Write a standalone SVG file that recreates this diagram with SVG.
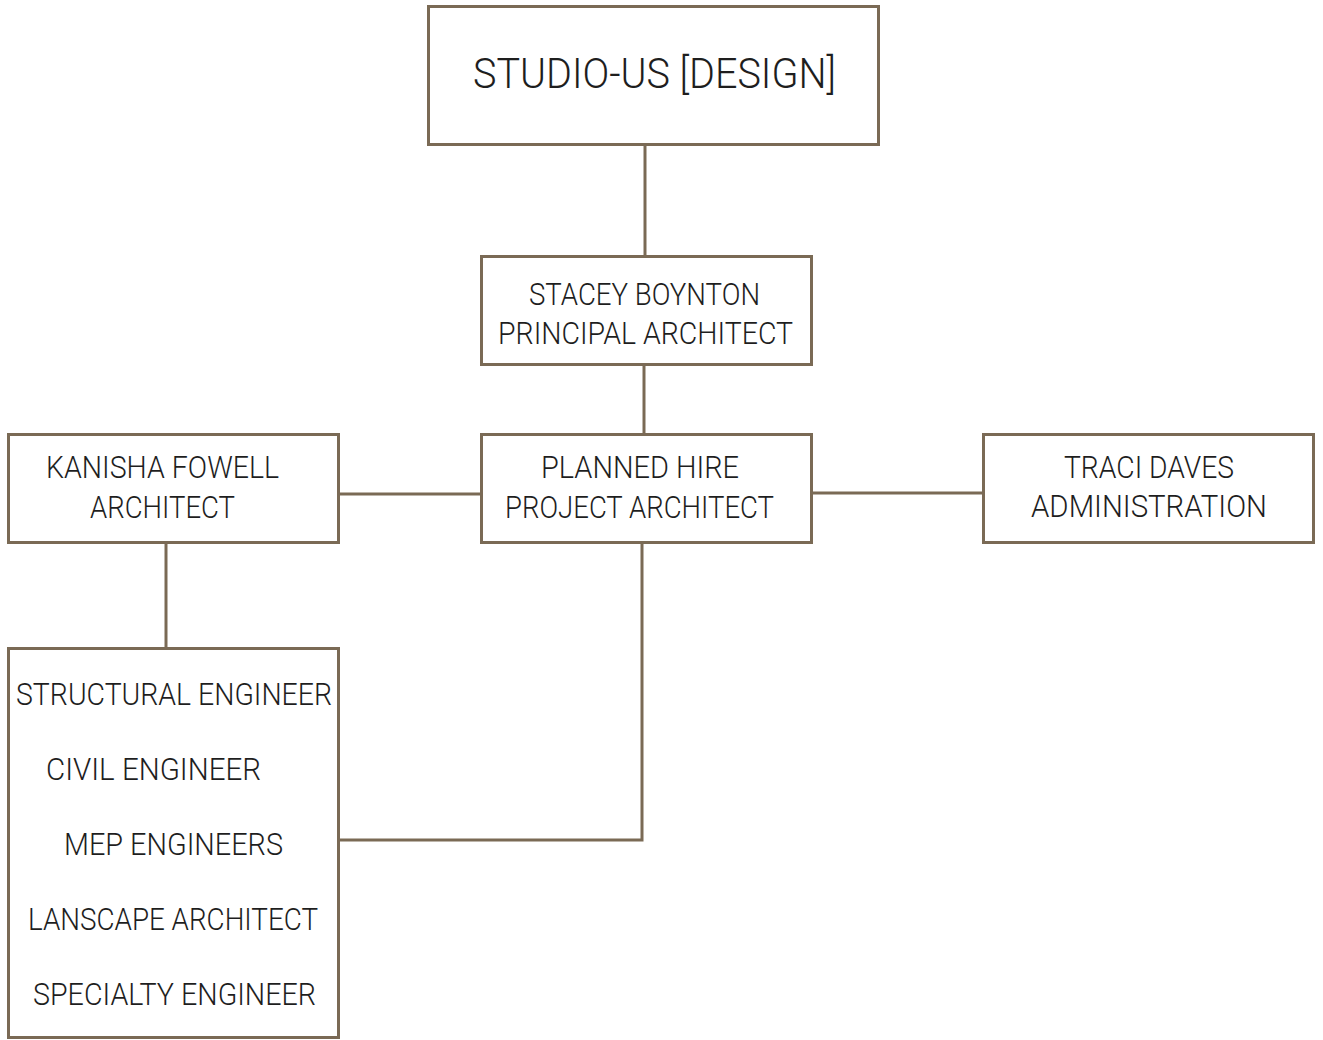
<svg xmlns="http://www.w3.org/2000/svg" width="1323" height="1040" viewBox="0 0 1323 1040">
<style>
.box{fill:#fff;stroke:#7a6a55;stroke-width:3}
.con{fill:none;stroke:#7a6a55;stroke-width:3}
text{font-family:Roboto,"Open Sans",sans-serif;font-weight:300;font-size:31px;fill:#1e1e1e}
.t{font-size:43px}
</style>
<rect width="1323" height="1040" fill="#fff"/>
<g id="connectors">
<path class="con" d="M645 144V256"/>
<path class="con" d="M644 365V434"/>
<path class="con" d="M339 494H481"/>
<path class="con" d="M812 493H983"/>
<path class="con" d="M166 543V648"/>
<path class="con" d="M339 840H642V543"/>
</g>
<g id="studio">
<rect class="box" x="428.5" y="6.5" width="450" height="138"/>
<text class="t" x="473" y="88" textLength="363" lengthAdjust="spacingAndGlyphs">STUDIO-US [DESIGN]</text>
</g>
<g id="stacey">
<rect class="box" x="481.5" y="256.5" width="330" height="108"/>
<text x="529" y="305" textLength="231" lengthAdjust="spacingAndGlyphs">STACEY BOYNTON</text>
<text x="498" y="344" textLength="295" lengthAdjust="spacingAndGlyphs">PRINCIPAL ARCHITECT</text>
</g>
<g id="planned">
<rect class="box" x="481.5" y="434.5" width="330" height="108"/>
<text x="541" y="478" textLength="198" lengthAdjust="spacingAndGlyphs">PLANNED HIRE</text>
<text x="505" y="518" textLength="269" lengthAdjust="spacingAndGlyphs">PROJECT ARCHITECT</text>
</g>
<g id="kanisha">
<rect class="box" x="8.5" y="434.5" width="330" height="108"/>
<text x="46" y="478" textLength="233" lengthAdjust="spacingAndGlyphs">KANISHA FOWELL</text>
<text x="90" y="518" textLength="145" lengthAdjust="spacingAndGlyphs">ARCHITECT</text>
</g>
<g id="traci">
<rect class="box" x="983.5" y="434.5" width="330" height="108"/>
<text x="1064" y="478" textLength="170" lengthAdjust="spacingAndGlyphs">TRACI DAVES</text>
<text x="1031" y="517" textLength="236" lengthAdjust="spacingAndGlyphs">ADMINISTRATION</text>
</g>
<g id="consultants">
<rect class="box" x="8.5" y="648.5" width="330" height="389"/>
<text x="16" y="705" textLength="316" lengthAdjust="spacingAndGlyphs">STRUCTURAL ENGINEER</text>
<text x="46" y="780" textLength="215" lengthAdjust="spacingAndGlyphs">CIVIL ENGINEER</text>
<text x="64" y="855" textLength="219" lengthAdjust="spacingAndGlyphs">MEP ENGINEERS</text>
<text x="28" y="930" textLength="290" lengthAdjust="spacingAndGlyphs">LANSCAPE ARCHITECT</text>
<text x="33" y="1005" textLength="283" lengthAdjust="spacingAndGlyphs">SPECIALTY ENGINEER</text>
</g>
</svg>
